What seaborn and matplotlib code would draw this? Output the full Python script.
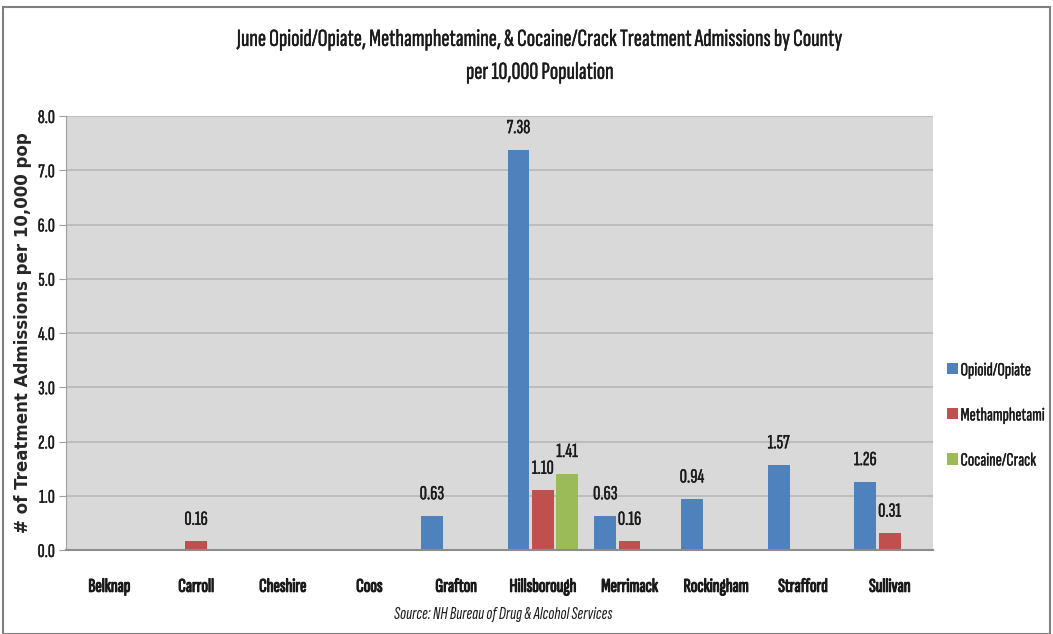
import matplotlib
matplotlib.use("Agg")
import matplotlib.pyplot as plt
import matplotlib.patheffects as pe
import seaborn as sns
import pandas as pd
from matplotlib import font_manager

counties = ["Belknap", "Carroll", "Cheshire", "Coos", "Grafton", "Hillsborough",
            "Merrimack", "Rockingham", "Strafford", "Sullivan"]
opioid = [0, 0, 0, 0, 0.63, 7.38, 0.63, 0.94, 1.57, 1.26]
meth = [0, 0.16, 0, 0, 0, 1.10, 0.16, 0, 0, 0.31]
cocaine = [0, 0, 0, 0, 0, 1.41, 0, 0, 0, 0]
series_names = ["Opioid/Opiate", "Methamphetami", "Cocaine/Crack"]
colors = ["#4F81BD", "#C0504D", "#9BBB59"]
y_ticks = [0, 1, 2, 3, 4, 5, 6, 7, 8]

installed = {f.name for f in font_manager.fontManager.ttflist}
narrow = next((n for n in ["Sofia Sans Extra Condensed", "Fira Sans Extra Condensed",
                           "Roboto Condensed", "Carlito"] if n in installed), "DejaVu Sans")

df = pd.DataFrame({
    "county": counties * 3,
    "value": opioid + meth + cocaine,
    "series": [s for s in series_names for _ in counties],
})

sns.set_style("white")
plt.rcParams["font.family"] = [narrow, "DejaVu Sans"]
plt.rcParams["text.color"] = "#1A1A1A"

ink = "#1A1A1A"
heavy = [pe.withStroke(linewidth=0.8, foreground=ink)]
light = [pe.withStroke(linewidth=0.25, foreground=ink)]

fig = plt.figure(figsize=(10.53, 6.34), dpi=100)
ax = fig.add_axes([0.0627, 0.1325, 0.8233, 0.6845])
sns.barplot(data=df, x="county", y="value", hue="series", palette=colors,
            saturation=1, width=0.84, gap=0.1, linewidth=0, ax=ax)

ax.set_facecolor("#D9D9D9")
ax.set_ylim(0, 8)
ax.set_xlim(-0.5, len(counties) - 0.5)
ax.set_yticks(y_ticks)
ax.set_yticklabels([f"{t:.1f}" for t in y_ticks], fontsize=14)
for lbl in ax.get_yticklabels():
    lbl.set_path_effects(light)
ax.grid(axis="y", color="#B8B8B8", linewidth=1.2)
ax.set_axisbelow(True)
for side in ["top", "right"]:
    ax.spines[side].set_visible(False)
ax.spines["left"].set_color("#A0A0A0")
ax.spines["bottom"].set_color("#8C8C8C")
ax.spines["bottom"].set_linewidth(1.5)
ax.tick_params(axis="y", length=5, color="#A0A0A0", pad=3, left=True, labelcolor=ink)
ax.tick_params(axis="x", length=0, pad=20, labelcolor=ink)
for lbl in ax.get_xticklabels():
    lbl.set_fontsize(14)
    lbl.set_path_effects(heavy)
ax.set_xlabel("")
ax.set_ylabel("# of Treatment Admissions per 10,000 pop", family="DejaVu Sans",
              fontsize=12, fontweight="bold", color="#262626")
ax.yaxis.set_label_coords(-0.039, 0.5)

for cont in ax.containers:
    labels = [f"{b.get_height():.2f}" if b.get_height() > 0 else "" for b in cont]
    for t in ax.bar_label(cont, labels=labels, padding=9, fontsize=14.5):
        t.set_path_effects(light)

leg = ax.legend(loc="center left", bbox_to_anchor=(1.008, 0.31), frameon=False,
                fontsize=13.5, handlelength=0.55, handleheight=0.55, handletextpad=0.15,
                labelspacing=1.55, borderaxespad=0)
for t in leg.get_texts():
    t.set_path_effects(light)

for y, s in [(0.937, "June Opioid/Opiate, Methamphetamine, & Cocaine/Crack Treatment Admissions by County"),
             (0.885, "per 10,000 Population")]:
    fig.text(0.513, y, s, ha="center", va="center", fontsize=17.8, path_effects=light)
fig.text(0.478, 0.031, "Source: NH Bureau of Drug & Alcohol Services", ha="center",
         va="center", fontsize=13, style="italic")

border = plt.Rectangle((0.003, 0.0), 0.994, 0.989, transform=fig.transFigure,
                       fill=False, edgecolor="#7F7F7F", linewidth=1.5)
fig.add_artist(border)

fig.savefig("out.png", dpi=100)
